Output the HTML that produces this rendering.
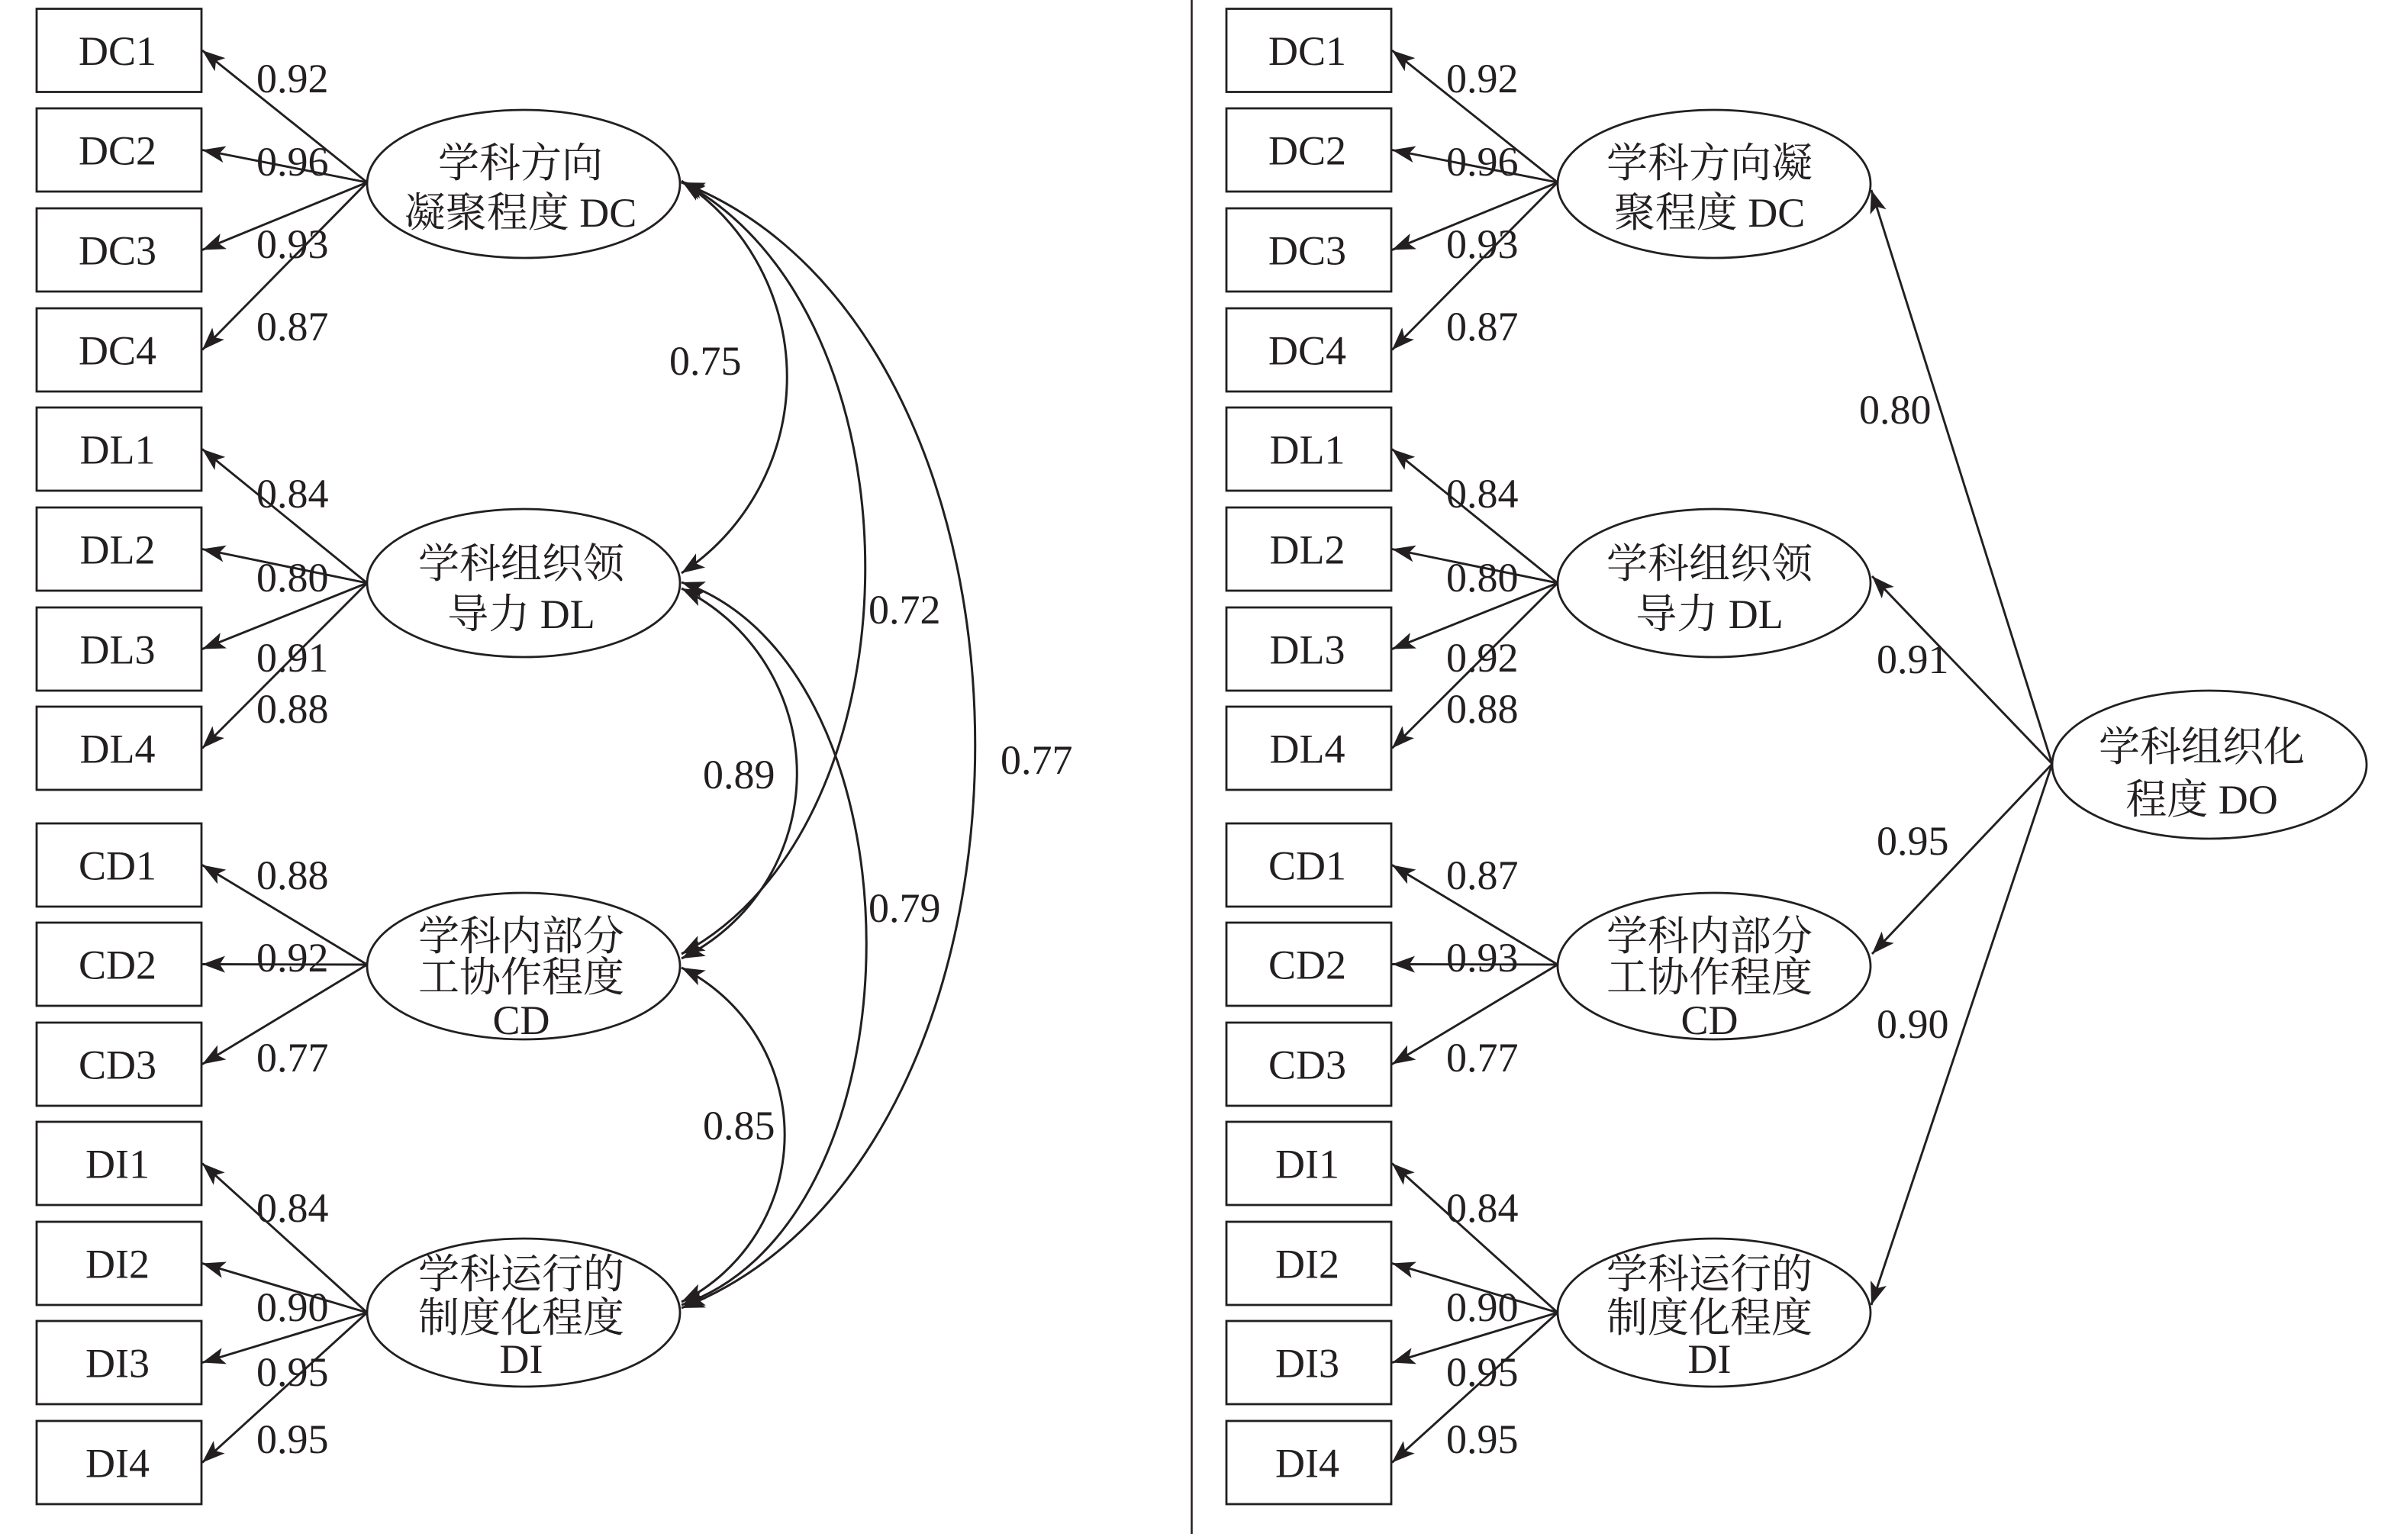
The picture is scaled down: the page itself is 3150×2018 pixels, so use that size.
<!DOCTYPE html>
<html>
<head>
<meta charset="utf-8">
<style>
html,body{margin:0;padding:0;background:#fff;}
svg{display:block;}
text{font-family:"Liberation Serif","Noto Serif CJK SC","Noto Serif CJK JP",serif;font-size:54px;fill:#231f20;}
</style>
</head>
<body>
<svg width="3150" height="2018" viewBox="0 0 3150 2018" xmlns="http://www.w3.org/2000/svg">
<defs>
<marker id="ah" viewBox="0 -12 32 24" refX="30" refY="0" markerWidth="32" markerHeight="24" markerUnits="userSpaceOnUse" orient="auto-start-reverse">
<path d="M30,0 L0,-11 L7,0 L0,11 Z" fill="#231f20"/>
</marker>
</defs>
<rect x="0" y="0" width="3150" height="2018" fill="#fff"/>

<!-- divider -->
<line x1="1561.5" y1="0" x2="1561.5" y2="2010" stroke="#231f20" stroke-width="2.5"/>

<g fill="#fff" stroke="#231f20" stroke-width="2.8">
<!-- left boxes -->
<rect x="48" y="11.5" width="216" height="109"/>
<rect x="48" y="142" width="216" height="109"/>
<rect x="48" y="273" width="216" height="109"/>
<rect x="48" y="404" width="216" height="109"/>
<rect x="48" y="534" width="216" height="109"/>
<rect x="48" y="665" width="216" height="109"/>
<rect x="48" y="796" width="216" height="109"/>
<rect x="48" y="926" width="216" height="109"/>
<rect x="48" y="1079" width="216" height="109"/>
<rect x="48" y="1209" width="216" height="109"/>
<rect x="48" y="1340" width="216" height="109"/>
<rect x="48" y="1470" width="216" height="109"/>
<rect x="48" y="1601" width="216" height="109"/>
<rect x="48" y="1731" width="216" height="109"/>
<rect x="48" y="1862" width="216" height="109"/>
<!-- right boxes -->
<rect x="1607" y="11.5" width="216" height="109"/>
<rect x="1607" y="142" width="216" height="109"/>
<rect x="1607" y="273" width="216" height="109"/>
<rect x="1607" y="404" width="216" height="109"/>
<rect x="1607" y="534" width="216" height="109"/>
<rect x="1607" y="665" width="216" height="109"/>
<rect x="1607" y="796" width="216" height="109"/>
<rect x="1607" y="926" width="216" height="109"/>
<rect x="1607" y="1079" width="216" height="109"/>
<rect x="1607" y="1209" width="216" height="109"/>
<rect x="1607" y="1340" width="216" height="109"/>
<rect x="1607" y="1470" width="216" height="109"/>
<rect x="1607" y="1601" width="216" height="109"/>
<rect x="1607" y="1731" width="216" height="109"/>
<rect x="1607" y="1862" width="216" height="109"/>
<!-- ellipses -->
<ellipse cx="686" cy="241" rx="205" ry="97"/>
<ellipse cx="686" cy="764" rx="205" ry="97"/>
<ellipse cx="686" cy="1266" rx="205" ry="96"/>
<ellipse cx="686" cy="1720" rx="205" ry="97"/>
<ellipse cx="2246" cy="241" rx="205" ry="97"/>
<ellipse cx="2246" cy="764" rx="205" ry="97"/>
<ellipse cx="2246" cy="1266" rx="205" ry="96"/>
<ellipse cx="2246" cy="1720" rx="205" ry="97"/>
<ellipse cx="2895" cy="1002" rx="206" ry="97"/>
</g>

<g fill="none" stroke="#231f20" stroke-width="2.9" marker-end="url(#ah)">
<!-- left loadings -->
<line x1="481" y1="239" x2="265" y2="66"/>
<line x1="481" y1="239" x2="265" y2="196.5"/>
<line x1="481" y1="239" x2="265" y2="327.5"/>
<line x1="481" y1="239" x2="265" y2="458.5"/>
<line x1="481" y1="764" x2="265" y2="588.5"/>
<line x1="481" y1="764" x2="265" y2="719.5"/>
<line x1="481" y1="764" x2="265" y2="850.5"/>
<line x1="481" y1="764" x2="265" y2="980.5"/>
<line x1="481" y1="1264" x2="265" y2="1133.5"/>
<line x1="481" y1="1264" x2="265" y2="1263.5"/>
<line x1="481" y1="1264" x2="265" y2="1394.5"/>
<line x1="481" y1="1720" x2="265" y2="1524.5"/>
<line x1="481" y1="1720" x2="265" y2="1655.5"/>
<line x1="481" y1="1720" x2="265" y2="1785.5"/>
<line x1="481" y1="1720" x2="265" y2="1916.5"/>
<!-- right loadings -->
<line x1="2041" y1="239" x2="1824" y2="66"/>
<line x1="2041" y1="239" x2="1824" y2="196.5"/>
<line x1="2041" y1="239" x2="1824" y2="327.5"/>
<line x1="2041" y1="239" x2="1824" y2="458.5"/>
<line x1="2041" y1="764" x2="1824" y2="588.5"/>
<line x1="2041" y1="764" x2="1824" y2="719.5"/>
<line x1="2041" y1="764" x2="1824" y2="850.5"/>
<line x1="2041" y1="764" x2="1824" y2="980.5"/>
<line x1="2041" y1="1264" x2="1824" y2="1133.5"/>
<line x1="2041" y1="1264" x2="1824" y2="1263.5"/>
<line x1="2041" y1="1264" x2="1824" y2="1394.5"/>
<line x1="2041" y1="1720" x2="1824" y2="1524.5"/>
<line x1="2041" y1="1720" x2="1824" y2="1655.5"/>
<line x1="2041" y1="1720" x2="1824" y2="1785.5"/>
<line x1="2041" y1="1720" x2="1824" y2="1916.5"/>
<!-- DO paths -->
<line x1="2689" y1="1001" x2="2452" y2="249"/>
<line x1="2689" y1="1001" x2="2453" y2="755"/>
<line x1="2689" y1="1001" x2="2453" y2="1250"/>
<line x1="2689" y1="1001" x2="2452" y2="1710"/>
</g>

<!-- correlation curves (double headed) -->
<g fill="none" stroke="#231f20" stroke-width="3" marker-start="url(#ah)" marker-end="url(#ah)">
<path d="M 893 237 A 308 308 0 0 1 893 751"/>
<path d="M 893 238 C 1214 408, 1214 1080, 893 1250"/>
<path d="M 893 239 C 1406 439, 1406 1514, 893 1714"/>
<path d="M 893 771 A 270 270 0 0 1 893 1256"/>
<path d="M 893 763 C 1216 873, 1216 1600, 893 1710"/>
<path d="M 893 1268 A 245 245 0 0 1 893 1706"/>
</g>

<!-- box labels -->
<g text-anchor="middle">
<text x="154" y="85">DC1</text>
<text x="154" y="215.5">DC2</text>
<text x="154" y="346.5">DC3</text>
<text x="154" y="477.5">DC4</text>
<text x="154" y="607.5">DL1</text>
<text x="154" y="738.5">DL2</text>
<text x="154" y="869.5">DL3</text>
<text x="154" y="999.5">DL4</text>
<text x="154" y="1152.5">CD1</text>
<text x="154" y="1282.5">CD2</text>
<text x="154" y="1413.5">CD3</text>
<text x="154" y="1543.5">DI1</text>
<text x="154" y="1674.5">DI2</text>
<text x="154" y="1804.5">DI3</text>
<text x="154" y="1935.5">DI4</text>

<text x="1713" y="85">DC1</text>
<text x="1713" y="215.5">DC2</text>
<text x="1713" y="346.5">DC3</text>
<text x="1713" y="477.5">DC4</text>
<text x="1713" y="607.5">DL1</text>
<text x="1713" y="738.5">DL2</text>
<text x="1713" y="869.5">DL3</text>
<text x="1713" y="999.5">DL4</text>
<text x="1713" y="1152.5">CD1</text>
<text x="1713" y="1282.5">CD2</text>
<text x="1713" y="1413.5">CD3</text>
<text x="1713" y="1543.5">DI1</text>
<text x="1713" y="1674.5">DI2</text>
<text x="1713" y="1804.5">DI3</text>
<text x="1713" y="1935.5">DI4</text>

<!-- ellipse labels left -->
<text x="682" y="232">学科方向</text>
<text x="682" y="297">凝聚程度 DC</text>
<text x="683" y="757">学科组织领</text>
<text x="683" y="823">导力 DL</text>
<text x="683" y="1245">学科内部分</text>
<text x="683" y="1299">工协作程度</text>
<text x="683" y="1355">CD</text>
<text x="683" y="1688">学科运行的</text>
<text x="683" y="1745">制度化程度</text>
<text x="683" y="1799">DI</text>

<!-- ellipse labels right -->
<text x="2240" y="232">学科方向凝</text>
<text x="2240" y="297">聚程度 DC</text>
<text x="2240" y="757">学科组织领</text>
<text x="2240" y="823">导力 DL</text>
<text x="2240" y="1245">学科内部分</text>
<text x="2240" y="1299">工协作程度</text>
<text x="2240" y="1355">CD</text>
<text x="2240" y="1688">学科运行的</text>
<text x="2240" y="1745">制度化程度</text>
<text x="2240" y="1799">DI</text>

<text x="2885" y="997">学科组织化</text>
<text x="2885" y="1066">程度 DO</text>
</g>

<!-- loading values -->
<g>
<text x="336" y="121">0.92</text>
<text x="336" y="230">0.96</text>
<text x="336" y="338">0.93</text>
<text x="336" y="446">0.87</text>
<text x="336" y="665">0.84</text>
<text x="336" y="775">0.80</text>
<text x="336" y="880">0.91</text>
<text x="336" y="947">0.88</text>
<text x="336" y="1165">0.88</text>
<text x="336" y="1273">0.92</text>
<text x="336" y="1404">0.77</text>
<text x="336" y="1601">0.84</text>
<text x="336" y="1731">0.90</text>
<text x="336" y="1816">0.95</text>
<text x="336" y="1904">0.95</text>

<text x="1895" y="121">0.92</text>
<text x="1895" y="230">0.96</text>
<text x="1895" y="338">0.93</text>
<text x="1895" y="446">0.87</text>
<text x="1895" y="665">0.84</text>
<text x="1895" y="775">0.80</text>
<text x="1895" y="880">0.92</text>
<text x="1895" y="947">0.88</text>
<text x="1895" y="1165">0.87</text>
<text x="1895" y="1273">0.93</text>
<text x="1895" y="1404">0.77</text>
<text x="1895" y="1601">0.84</text>
<text x="1895" y="1731">0.90</text>
<text x="1895" y="1816">0.95</text>
<text x="1895" y="1904">0.95</text>

<!-- correlations -->
<text x="877" y="491">0.75</text>
<text x="1138" y="817">0.72</text>
<text x="1311" y="1014">0.77</text>
<text x="921" y="1033">0.89</text>
<text x="1138" y="1208">0.79</text>
<text x="921" y="1493">0.85</text>

<!-- DO paths -->
<text x="2436" y="555">0.80</text>
<text x="2459" y="882">0.91</text>
<text x="2459" y="1120">0.95</text>
<text x="2459" y="1360">0.90</text>
</g>
</svg>
</body>
</html>
